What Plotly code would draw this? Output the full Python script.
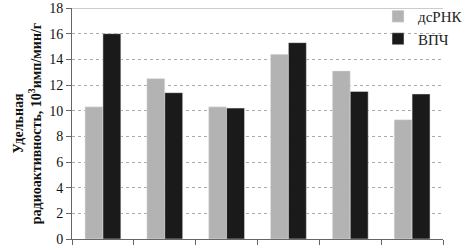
import plotly.graph_objects as go

categories = ["1", "2", "3", "4", "5", "6"]
drnk = [10.3, 12.5, 10.3, 14.4, 13.1, 9.3]
vpch = [16.0, 11.4, 10.2, 15.3, 11.5, 11.3]
series_names = ["дсРНК", "ВПЧ"]
y_ticks = list(range(0, 19, 2))

fig = go.Figure()
fig.add_trace(go.Bar(x=categories, y=drnk, name=series_names[0], marker_color="#b3b3b3"))
fig.add_trace(go.Bar(x=categories, y=vpch, name=series_names[1], marker_color="#1a1a1a"))

fig.update_layout(
    width=468, height=247,
    margin=dict(l=72, r=0, t=7, b=8),
    paper_bgcolor="white", plot_bgcolor="white",
    barmode="group", bargap=0.42, bargroupgap=0,
    font=dict(family="Liberation Serif", size=14, color="#222"),
    legend=dict(x=0.825, y=1.035, xanchor="left", yanchor="top", bgcolor="rgba(0,0,0,0)",
                font=dict(size=15), tracegroupgap=2),
    xaxis=dict(showticklabels=False, tickson="boundaries", ticks="outside", ticklen=5,
               tickcolor="#666", showline=True, linecolor="#666", linewidth=1,
               showgrid=False, range=[-0.5, 5.5], automargin=False),
    yaxis=dict(range=[0, 18], tickvals=y_ticks, ticks="outside", ticklen=5, tickcolor="#666",
               showline=True, linecolor="#666", linewidth=1, ticklabeloverflow="allow",
               showgrid=True, gridcolor="#aaa", griddash="dot", gridwidth=1,
               tickfont=dict(size=14, color="#111"), zeroline=False, automargin=False,
               title=dict(text="<b>Удельная<br>радиоактивность, 10<sup>3</sup>имп/мин/г</b>",
                          font=dict(size=14, color="#111"), standoff=4)),
    showlegend=True,
)
fig.add_shape(type="line", xref="paper", yref="y", x0=0, x1=1, y0=18, y1=18,
              line=dict(color="#999", width=1))
fig.write_html("out.html", config={"displayModeBar": False},
               post_script="document.body.style.margin='0';document.body.style.overflow='hidden';")
